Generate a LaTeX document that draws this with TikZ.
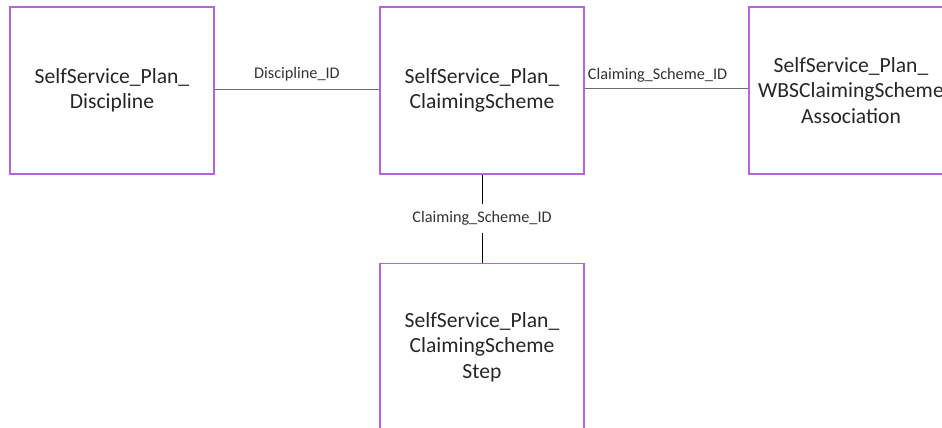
\documentclass[tikz,border=0pt]{standalone}
\usepackage{fontspec}
\setmainfont{Carlito}
\definecolor{boxpurple}{RGB}{178,102,218}
\definecolor{linegray}{RGB}{110,110,110}
\tikzset{
  entity/.style={draw=boxpurple, line width=1pt, minimum width=153pt, minimum height=125.25pt,
    inner sep=0pt, align=center, font=\fontsize{16.2}{19}\selectfont, text=black!85},
  rel/.style={font=\fontsize{12.2}{14}\selectfont, text=black!80, inner sep=0pt},
  conn/.style={line width=0.75pt}
}
\begin{document}
\begin{tikzpicture}[x=0.75pt,y=-0.75pt]
\useasboundingbox (0,0) rectangle (942,428);
\clip (0,0) rectangle (942,428);
\node[entity] (disc) at (112,90.5) {SelfService\_Plan\_\\Discipline};
\node[entity] (cs) at (482,90.5) {SelfService\_Plan\_\\ClaimingScheme};
\node[entity] (wbs) at (851,90.5) {SelfService\_Plan\_\\WBSClaimingScheme\\Association};
\node[entity] (step) at (482,347) {SelfService\_Plan\_\\ClaimingScheme\\Step};
\coordinate (a1) at (disc.east |- 0,90);
\coordinate (a2) at (cs.west |- 0,90);
\draw[conn, draw=linegray] (a1) -- (a2) node[rel, midway, above=6pt] (l1) {Discipline\_ID};
\coordinate (b1) at (cs.east |- 0,89);
\coordinate (b2) at (wbs.west |- 0,89);
\draw[conn, draw=linegray] (b1) -- (b2) node[rel, pos=0.445, above=5pt] (l2) {Claiming\_Scheme\_ID};
\node[rel, fill=white, inner ysep=5.5pt, inner xsep=2pt] (l3) at (482,218.5) {Claiming\_Scheme\_ID};
\draw[conn] (cs.south) -- (l3.north);
\draw[conn] (l3.south) -- (step.north);
\end{tikzpicture}
\end{document}
